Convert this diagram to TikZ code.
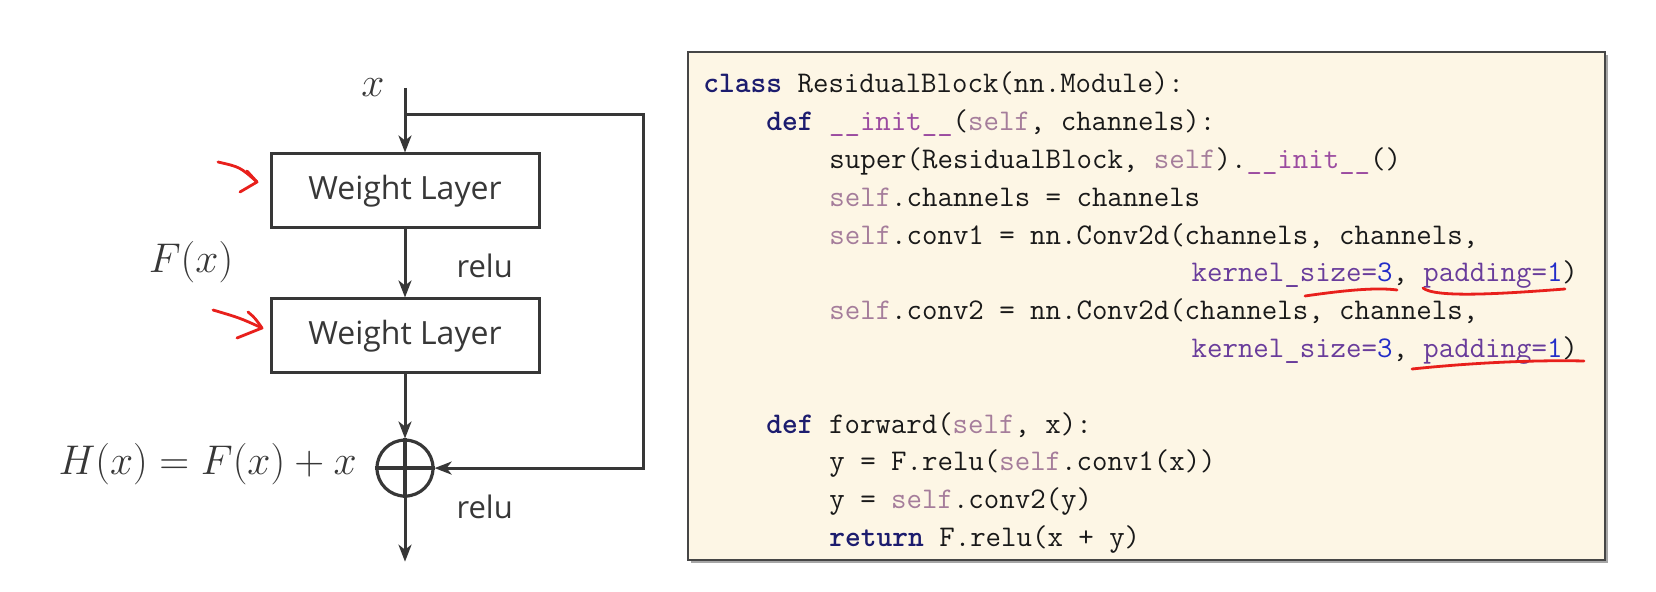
\documentclass[tikz,border=0pt]{standalone}
\usepackage{fontspec}
\usetikzlibrary{positioning,arrows.meta,shadows}
\newfontfamily\labelfont{Open Sans}

\definecolor{ink}{RGB}{55,55,55}
\definecolor{pen}{RGB}{232,32,28}
\definecolor{paper}{RGB}{253,246,229}
\definecolor{frame}{RGB}{70,70,70}
\definecolor{kwcol}{RGB}{28,28,110}
\definecolor{selfcol}{RGB}{165,125,155}
\definecolor{magiccol}{RGB}{155,75,160}
\definecolor{argcol}{RGB}{105,60,155}
\definecolor{numcol}{RGB}{35,45,200}
\definecolor{codeink}{RGB}{25,25,25}

\newcommand{\pykw}[1]{\textcolor{kwcol}{\bfseries #1}}
\newcommand{\pyself}{\textcolor{selfcol}{self}}
\newcommand{\pymagic}[1]{\textcolor{magiccol}{#1}}
\newcommand{\pyarg}[1]{\textcolor{argcol}{#1}}
\newcommand{\pynum}[1]{\textcolor{numcol}{#1}}

\tikzstyle{layer} = [draw=ink, line width=1.5pt, minimum width=134pt, minimum height=37pt, inner sep=0pt, text=ink, font=\labelfont\fontsize{16}{19}\selectfont]
\tikzstyle{adder} = [circle, draw=ink, line width=1.6pt, minimum size=28pt, inner sep=0pt]
\tikzstyle{flow} = [draw=ink, line width=1.5pt, -{Stealth[length=8.5pt,width=6.5pt,inset=2.5pt]}]
\tikzstyle{note} = [inner sep=0pt, text=ink, font=\labelfont\fontsize{15.5}{18}\selectfont]
\tikzstyle{formula} = [inner sep=0pt, text=ink, font=\fontsize{20}{24}\selectfont]
\tikzstyle{redmark} = [draw=pen, line width=1.4pt, line cap=round, line join=round]
\tikzstyle{codebox} = [draw=frame, line width=1pt, fill=paper, minimum width=458.5pt, minimum height=254pt, drop shadow={shadow xshift=1.5pt, shadow yshift=-1.5pt, opacity=0.35, fill=black}]
\tikzstyle{codeline} = [anchor=base west, inner sep=0pt, text=codeink, font=\ttfamily\fontsize{15}{18.9}\selectfont\frenchspacing]

\begin{document}
\begin{tikzpicture}[x=0.5pt, y=-0.5pt]
\useasboundingbox (0,0) rectangle (1656,592);
%begin block
\coordinate (top) at (405,88);
\coordinate (split) at (405,115);
\node[formula] (xin) at (373,88) {$x$};
\node[layer] (w1) at (405,191) {Weight Layer};
\node[layer, below=34pt of w1] (w2) {Weight Layer};
\node[adder, below=32pt of w2] (sum) {};
\coordinate[below=32pt of sum] (out);
\coordinate (corner1) at (643,115);
\coordinate (corner2) at (corner1 |- sum);
\draw[flow] (top) -- (w1);
\draw[flow] (w1) -- node[note, pos=0.53, right=25pt] (relu1) {relu} (w2);
\draw[flow] (w2) -- (sum);
\draw[flow] (sum) -- node[note, pos=0.15, right=25pt] (relu2) {relu} (out);
\draw[ink, line width=1.6pt] (sum.north) -- (sum.south) (sum.west) -- (sum.east);
%skip connection
\draw[flow] (split) -- (corner1) -- (corner2) -- (sum);
\node[formula] (fx) at (191,262) {$F(x)$};
\node[formula, anchor=east] (hx) at (357,464) {$H(x)=F(x)+x$};
%red marks
\draw[redmark] (218,162) .. controls (240,167) .. (257,182);
\draw[redmark] (247,171) -- (257,182) -- (240,192);
\draw[redmark] (213,310) .. controls (240,318) .. (262,328);
\draw[redmark] (248,312) .. controls (255,318) .. (262,328) -- (237,338);
%end block
%begin code
\node[codebox] (panel) at (1146.5,306) {};
\foreach \row/\col/\txt in {
    0/0/{\pykw{class} ResidualBlock(nn.Module):},
    1/4/{\pykw{def} \pymagic{\_\_init\_\_}(\pyself, channels):},
    2/8/{super(ResidualBlock, \pyself).\pymagic{\_\_init\_\_}()},
    3/8/{\pyself.channels = channels},
    4/8/{\pyself.conv1 = nn.Conv2d(channels, channels,},
    5/31/{\pyarg{kernel\_size=}\pynum{3}, \pyarg{padding=}\pynum{1})},
    6/8/{\pyself.conv2 = nn.Conv2d(channels, channels,},
    7/31/{\pyarg{kernel\_size=}\pynum{3}, \pyarg{padding=}\pynum{1})},
    9/4/{\pykw{def} forward(\pyself, x):},
    10/8/{y = F.relu(\pyself.conv1(x))},
    11/8/{y = \pyself.conv2(y)},
    12/8/{\pykw{return} F.relu(x + y)}}
    \node[codeline] (line\row) at (703+15.75*\col, 93+37.8*\row) {\txt};
%underlines
\draw[redmark] (1305,296) .. controls (1340,291) and (1375,287) .. (1397,290);
\draw[redmark] (1423,288) .. controls (1435,298) and (1500,294) .. (1565,289);
\draw[redmark] (1412,369) .. controls (1480,362) and (1540,360) .. (1584,361);
%end code
\end{tikzpicture}
\end{document}
